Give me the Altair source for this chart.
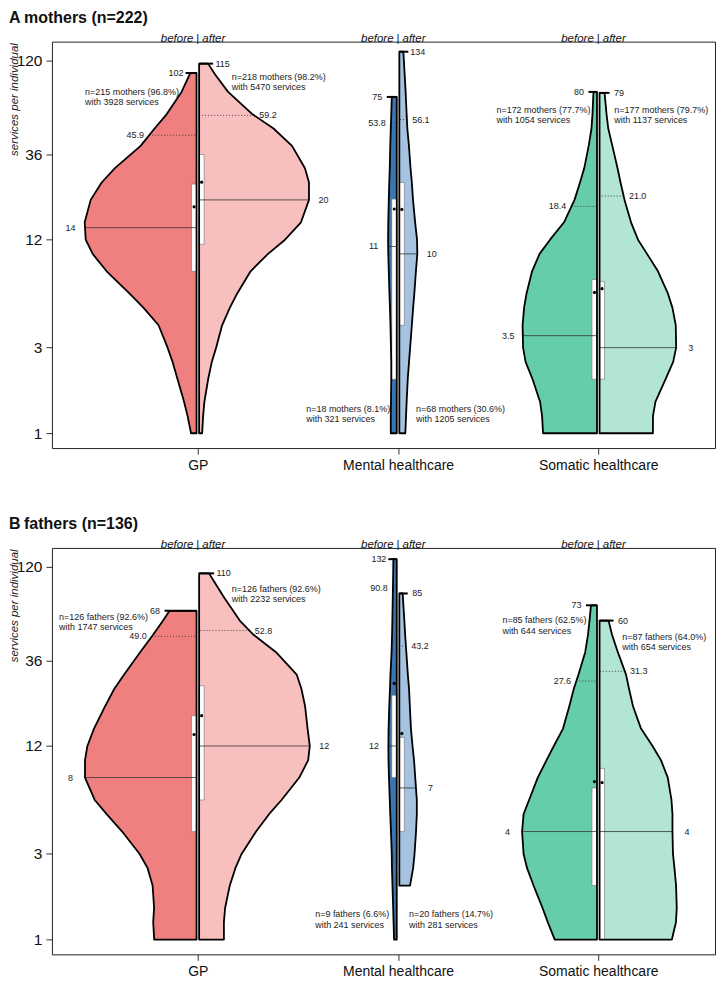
import numpy as np
import pandas as pd
import altair as alt

CATEGORIES = ["GP", "Mental healthcare", "Somatic healthcare"]
SIDES = ["before", "after"]
LEVELS = [1, 1.25, 1.5, 2, 2.5, 3, 4, 5, 6, 8, 10, 12, 15, 20, 25, 30, 40, 50, 60, 80, 100, 120]
Y_TICKS = [1, 3, 12, 36, 120]

COLOR_BEFORE = ["#F08080", "#3A76B2", "#66CDAA"]
COLOR_AFTER = ["#F8BFBF", "#A5C2E0", "#B2E5D3"]

# ---------------- A: mothers ----------------
M_TOTAL = 222
M_N_BEFORE = [215, 18, 172]
M_PCT_BEFORE = [96.8, 8.1, 77.7]
M_SERV_BEFORE = [3928, 321, 1054]
M_N_AFTER = [218, 68, 177]
M_PCT_AFTER = [98.2, 30.6, 79.7]
M_SERV_AFTER = [5470, 1205, 1137]
M_MIN_BEFORE = [1, 1, 1]
M_MIN_AFTER = [1, 1, 1]
M_MAX_BEFORE = [102, 75, 80]
M_MAX_AFTER = [115, 134, 79]
M_MED_BEFORE = [14, 11, 3.5]
M_MED_AFTER = [20, 10, 3]
M_P95_BEFORE = [45.9, 53.8, 18.4]
M_P95_AFTER = [59.2, 56.1, 21.0]
M_Q1_BEFORE = [8, 2, 2]
M_Q3_BEFORE = [24.5, 20.2, 7.2]
M_Q1_AFTER = [11.3, 4, 2]
M_Q3_AFTER = [35.8, 25, 7]
M_MEAN_BEFORE = [18.3, 17.8, 6.1]
M_MEAN_AFTER = [25.1, 17.7, 6.4]

# violin half-widths (read in reference pixels) at LEVELS within [min, max), then at max
M_GP_BEFORE_W = [5.5, 9, 12.5, 19, 24, 29, 38, 53, 67, 90, 104, 111, 112, 106, 95, 82, 56, 42, 30, 15, 7]
M_GP_BEFORE_TOP = 6
M_GP_AFTER_W = [3, 4, 5.3, 9, 12.7, 17, 23, 30.7, 38, 51.5, 69, 86, 102, 110, 110, 106, 93, 74.5, 53.5, 29, 16]
M_GP_AFTER_TOP = 9
M_MH_BEFORE_W = [6, 6, 5.8, 5.5, 5.5, 5.8, 6.3, 6.8, 7.3, 8, 8.5, 8.7, 8.5, 8, 7.5, 7, 6.5, 6, 5.5]
M_MH_BEFORE_TOP = 5
M_MH_AFTER_W = [6, 6.7, 7.3, 8.4, 9.7, 10.8, 12.5, 13.8, 15, 16.6, 18, 17.7, 15.8, 13.7, 12.5, 11.2, 9.6, 8, 7.3, 6.3, 5.3, 4.5]
M_MH_AFTER_TOP = 4
M_SH_BEFORE_W = [54, 55, 57, 64.5, 71.5, 74, 74.5, 73, 70.6, 65, 57.5, 47, 33, 22.5, 17, 12.8, 8.3, 5.5, 4.5]
M_SH_BEFORE_TOP = 3.5
M_SH_AFTER_W = [53.4, 53.5, 56, 66, 73.7, 76.7, 76.3, 73, 68.5, 58.5, 47.5, 38.5, 31.5, 25, 21, 18, 12.8, 8.7, 7]
M_SH_AFTER_TOP = 5

# ---------------- B: fathers ----------------
F_TOTAL = 136
F_N_BEFORE = [126, 9, 85]
F_PCT_BEFORE = [92.6, 6.6, 62.5]
F_SERV_BEFORE = [1747, 241, 644]
F_N_AFTER = [126, 20, 87]
F_PCT_AFTER = [92.6, 14.7, 64.0]
F_SERV_AFTER = [2232, 281, 654]
F_MIN_BEFORE = [1, 1, 1]
F_MIN_AFTER = [1, 2, 1]
F_MAX_BEFORE = [68, 132, 73]
F_MAX_AFTER = [110, 85, 60]
F_MED_BEFORE = [8, 12, 4]
F_MED_AFTER = [12, 7, 4]
F_P95_BEFORE = [49.0, 90.8, 27.6]
F_P95_AFTER = [52.8, 43.2, 31.3]
F_Q1_BEFORE = [4, 8, 2]
F_Q3_BEFORE = [17.7, 23, 7]
F_Q1_AFTER = [6, 4, 1]
F_Q3_AFTER = [26, 13.4, 9]
F_MEAN_BEFORE = [13.9, 26.8, 7.6]
F_MEAN_AFTER = [17.7, 14.1, 7.5]

F_GP_BEFORE_W = [42.4, 43.4, 42.5, 44, 49, 57, 74.5, 90, 102, 111.7, 111.7, 109.3, 102.7, 91.5, 82.3, 72.5, 56.5, 43.5, 33.5]
F_GP_BEFORE_TOP = 27
F_GP_AFTER_W = [24.8, 24.8, 26, 30.7, 36.3, 42.5, 57, 70, 82.5, 100.3, 109.2, 110.8, 108.6, 106.1, 102.4, 97.7, 77, 54.5, 40.7, 25.5, 14.5]
F_GP_AFTER_TOP = 10
F_MH_BEFORE_W = [2.7, 3.2, 3.6, 4.3, 4.8, 5, 5.8, 6.5, 7, 7.8, 8.3, 8.4, 8.2, 7.5, 6.8, 6.3, 5.2, 4.7, 4.4, 4, 3.7, 3.5]
F_MH_BEFORE_TOP = 3.4
F_MH_AFTER_W = [10.7, 13.8, 15.2, 16.7, 17.5, 17.5, 15.9, 14.7, 13.2, 11.6, 10.5, 9.7, 8.5, 7, 5.8, 5, 3.6]
F_MH_AFTER_TOP = 3.4
F_SH_BEFORE_W = [42.3, 49.3, 54.5, 63.5, 70, 73.5, 75, 73.5, 68, 59.3, 50.5, 43.2, 34, 27.7, 23.2, 18.5, 11.8, 9, 7.5]
F_SH_BEFORE_TOP = 6
F_SH_AFTER_W = [72.4, 76.5, 77.3, 76.6, 75, 73.5, 73, 73, 72, 68.3, 61.5, 53, 41.5, 33.5, 29.5, 26.5, 18.3, 12.5]
F_SH_AFTER_TOP = 9

# annotation placement: offset from category centre (ref px) and value of first line
M_NOTE_DX_BEFORE = [-113, -92, -102]
M_NOTE_Y_BEFORE = [80.4, 1.37, 63.8]
M_NOTE_DX_AFTER = [34, 18, 16]
M_NOTE_Y_AFTER = [97.1, 1.37, 63.8]
F_NOTE_DX_BEFORE = [-139, -83, -96]
F_NOTE_Y_BEFORE = [62.8, 1.38, 60.1]
F_NOTE_DX_AFTER = [34, 11, 24]
F_NOTE_Y_AFTER = [90.5, 1.38, 48.9]

# ---------------- layout constants ----------------
FONT = "Liberation Sans"
W, H = 664, 407
PX = 200.5  # pixels per category step
X_DOMAIN = [0.2713, 0.2713 + W / PX]
Y_DOMAIN = [0.827, 152.5]
GAP = 1.3 / PX
BOX_W = 5.0 / PX
CAP_EXTRA = 5.0 / PX
MED_OFF = 14.5 / PX
P95_OFF = 14.0 / PX
MAX_OFF = 9.5 / PX


def spec(group, n_b, pct_b, serv_b, n_a, pct_a, serv_a, mn_b, mn_a, mx_b, mx_a, med_b, med_a,
         p95_b, p95_a, q1_b, q3_b, q1_a, q3_a, mean_b, mean_a, w_b, top_b, w_a, top_a,
         ndx_b, ny_b, ndx_a, ny_a):
    return {
        "group": group,
        "before": dict(n=n_b, pct=pct_b, serv=serv_b, min=mn_b, max=mx_b, med=med_b, p95=p95_b,
                       q1=q1_b, q3=q3_b, mean=mean_b, w=w_b, top=top_b, ndx=ndx_b, ny=ny_b),
        "after": dict(n=n_a, pct=pct_a, serv=serv_a, min=mn_a, max=mx_a, med=med_a, p95=p95_a,
                      q1=q1_a, q3=q3_a, mean=mean_a, w=w_a, top=top_a, ndx=ndx_a, ny=ny_a),
    }


MOTHERS = spec("mothers", M_N_BEFORE, M_PCT_BEFORE, M_SERV_BEFORE, M_N_AFTER, M_PCT_AFTER, M_SERV_AFTER,
               M_MIN_BEFORE, M_MIN_AFTER, M_MAX_BEFORE, M_MAX_AFTER, M_MED_BEFORE, M_MED_AFTER,
               M_P95_BEFORE, M_P95_AFTER, M_Q1_BEFORE, M_Q3_BEFORE, M_Q1_AFTER, M_Q3_AFTER,
               M_MEAN_BEFORE, M_MEAN_AFTER,
               [M_GP_BEFORE_W, M_MH_BEFORE_W, M_SH_BEFORE_W], [M_GP_BEFORE_TOP, M_MH_BEFORE_TOP, M_SH_BEFORE_TOP],
               [M_GP_AFTER_W, M_MH_AFTER_W, M_SH_AFTER_W], [M_GP_AFTER_TOP, M_MH_AFTER_TOP, M_SH_AFTER_TOP],
               M_NOTE_DX_BEFORE, M_NOTE_Y_BEFORE, M_NOTE_DX_AFTER, M_NOTE_Y_AFTER)
FATHERS = spec("fathers", F_N_BEFORE, F_PCT_BEFORE, F_SERV_BEFORE, F_N_AFTER, F_PCT_AFTER, F_SERV_AFTER,
               F_MIN_BEFORE, F_MIN_AFTER, F_MAX_BEFORE, F_MAX_AFTER, F_MED_BEFORE, F_MED_AFTER,
               F_P95_BEFORE, F_P95_AFTER, F_Q1_BEFORE, F_Q3_BEFORE, F_Q1_AFTER, F_Q3_AFTER,
               F_MEAN_BEFORE, F_MEAN_AFTER,
               [F_GP_BEFORE_W, F_MH_BEFORE_W, F_SH_BEFORE_W], [F_GP_BEFORE_TOP, F_MH_BEFORE_TOP, F_SH_BEFORE_TOP],
               [F_GP_AFTER_W, F_MH_AFTER_W, F_SH_AFTER_W], [F_GP_AFTER_TOP, F_MH_AFTER_TOP, F_SH_AFTER_TOP],
               F_NOTE_DX_BEFORE, F_NOTE_Y_BEFORE, F_NOTE_DX_AFTER, F_NOTE_Y_AFTER)


def frames(sp):
    vio, box, med, p95, cap, mean, labels, notes = [], [], [], [], [], [], [], []
    for i, cat in enumerate(CATEGORIES):
        c = i + 1
        for side in SIDES:
            d = sp[side]
            s = -1 if side == "before" else 1
            inner = c + s * GAP
            vmin, vmax = d["min"][i], d["max"][i]
            lv = [l for l in LEVELS if vmin <= l < vmax]
            widths = d["w"][i]
            assert len(lv) == len(widths), (sp["group"], cat, side, len(lv), len(widths))
            ys = lv + [vmax]
            ws = [w / PX for w in widths] + [d["top"][i] / PX]
            fill = (COLOR_BEFORE if side == "before" else COLOR_AFTER)[i]
            vid = f"{i}-{side}"
            for k, (y, w) in enumerate(zip(ys, ws)):
                vio.append(dict(vid=vid, k=k, y=y, x=inner + s * w, x2=inner, fill=fill))

            def wat(v):
                return float(np.interp(np.log10(v), np.log10(ys), ws))

            box.append(dict(x=inner + s * BOX_W, x2=inner, y=d["q1"][i], y2=d["q3"][i]))
            mv = d["med"][i]
            wm = wat(mv)
            med.append(dict(x=inner + s * wm, x2=inner, y=mv))
            labels.append(dict(x=inner + s * (wm + MED_OFF), y=mv, t=f"{mv:g}"))
            pv = d["p95"][i]
            wp = wat(pv)
            p95.append(dict(x=inner + s * wp, x2=inner, y=pv))
            labels.append(dict(x=inner + s * (wp + P95_OFF), y=pv, t=f"{pv:.1f}"))
            cl = d["top"][i] / PX + CAP_EXTRA
            cap.append(dict(x=inner + s * cl, x2=inner, y=vmax))
            labels.append(dict(x=inner + s * (cl + MAX_OFF), y=vmax, t=f"{vmax:d}"))
            mean.append(dict(x=inner + s * BOX_W / 2, y=d["mean"][i]))
            notes.append(dict(
                x=c + d["ndx"][i] / PX, y=d["ny"][i],
                l1=f"n={d['n'][i]} {sp['group']} ({d['pct'][i]:.1f}%)",
                l2=f"with {d['serv'][i]} services"))
    return [pd.DataFrame(v) for v in (vio, box, med, p95, cap, mean, labels, notes)]


expr = "''"
for i in reversed(range(len(CATEGORIES))):
    expr = f"datum.value == {i + 1} ? '{CATEGORIES[i]}' : {expr}"

XS = alt.Scale(domain=X_DOMAIN, nice=False, zero=False)
YS = alt.Scale(type="log", domain=Y_DOMAIN, nice=False)
XA = alt.Axis(values=[1, 2, 3], labelExpr=expr, tickSize=6, labelFontSize=14, labelPadding=4,
              domain=False, grid=False, labelOverlap=False, labelFlush=False, labelColor="#111",
              tickColor="#333", labelFont=FONT)
YA = alt.Axis(values=Y_TICKS, format="d", tickSize=6, labelFontSize=15.5, labelPadding=4,
              domain=False, grid=False, labelOverlap=False, labelFlush=False, labelColor="#111",
              tickColor="#333", labelFont=FONT)


def X(f="x"):
    return alt.X(f"{f}:Q", scale=XS, axis=XA, title=None)


def Y(f="y"):
    return alt.Y(f"{f}:Q", scale=YS, axis=YA, title=None)


def panel(sp, letter, title):
    vio, box, med, p95, cap, mean, labels, notes = frames(sp)
    fills = alt.Chart(vio).mark_area(orient="horizontal", strokeWidth=0).encode(
        y=Y(), x=X(), x2="x2:Q", detail="vid:N", color=alt.Color("fill:N", scale=None))
    outline = alt.Chart(vio).mark_area(orient="horizontal", fillOpacity=0, stroke="black",
                                       strokeWidth=1.8, strokeJoin="round").encode(
        y=Y(), x=X(), x2="x2:Q", detail="vid:N")
    boxes = alt.Chart(box).mark_rect(fill="white", stroke="#707070", strokeWidth=0.6).encode(
        x=X(), x2="x2:Q", y=Y(), y2="y2:Q")
    meds = alt.Chart(med).mark_rule(color="#333", strokeWidth=0.8).encode(x=X(), x2="x2:Q", y=Y())
    p95s = alt.Chart(p95).mark_rule(color="#333", strokeWidth=0.9, strokeDash=[1, 2]).encode(
        x=X(), x2="x2:Q", y=Y())
    caps = alt.Chart(cap).mark_rule(color="black", strokeWidth=2).encode(x=X(), x2="x2:Q", y=Y())
    means = alt.Chart(mean).mark_circle(color="black", size=10, opacity=1).encode(x=X(), y=Y())
    labs = alt.Chart(labels).mark_text(fontSize=9, color="#222", align="center", baseline="middle",
                                       font=FONT).encode(x=X(), y=Y(), text="t:N")
    note1 = alt.Chart(notes).mark_text(fontSize=9, color="#222", align="left", baseline="middle",
                                       font=FONT).encode(x=X(), y=Y(), text="l1:N")
    note2 = alt.Chart(notes).mark_text(fontSize=9, color="#222", align="left", baseline="middle",
                                       dy=10.3, font=FONT).encode(x=X(), y=Y(), text="l2:N")
    hdr = pd.DataFrame({"x": [1, 2, 3]})
    h_before = alt.Chart(hdr).mark_text(text="before", fontSize=11.5, fontStyle="italic", align="right",
                                        dx=-4.5, font=FONT, color="#111").encode(x=X(), y=alt.value(-2.5))
    h_bar = alt.Chart(hdr).mark_text(text="|", fontSize=11.5, align="center", font=FONT,
                                     color="#111").encode(x=X(), y=alt.value(-2.5))
    h_after = alt.Chart(hdr).mark_text(text="after", fontSize=11.5, fontStyle="italic", align="left",
                                       dx=4.5, font=FONT, color="#111").encode(x=X(), y=alt.value(-2.5))
    t_letter = alt.Chart(pd.DataFrame({"t": [letter]})).mark_text(
        fontSize=16, fontWeight="bold", align="left", font=FONT, color="#111").encode(
        text="t:N", x=alt.value(-43), y=alt.value(-24))
    t_title = alt.Chart(pd.DataFrame({"t": [title]})).mark_text(
        fontSize=16, fontWeight="bold", align="left", font=FONT, color="#111").encode(
        text="t:N", x=alt.value(-28), y=alt.value(-24))
    y_title = alt.Chart(pd.DataFrame({"t": ["services per individual"]})).mark_text(
        fontSize=11.5, fontStyle="italic", angle=270, align="center", baseline="middle", font=FONT,
        color="#222").encode(text="t:N", x=alt.value(-37), y=alt.value(58))
    return alt.layer(fills, boxes, meds, p95s, outline, caps, means, labs, note1, note2,
                     h_before, h_bar, h_after, t_letter, t_title, y_title).properties(width=W, height=H)


chart = alt.vconcat(
    panel(MOTHERS, "A", f"mothers (n={M_TOTAL})"),
    panel(FATHERS, "B", f"fathers (n={F_TOTAL})"),
    spacing=42,
).properties(
    padding={"left": 0, "top": 0, "right": 0, "bottom": 0}, background="white"
).configure(font=FONT).configure_view(stroke="#222", strokeWidth=1)

chart.save("out.html", embed_options={"renderer": "svg", "actions": False})
